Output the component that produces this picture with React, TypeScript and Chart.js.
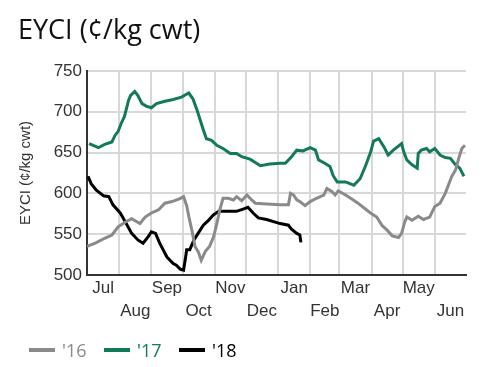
import React, { useEffect, useRef } from "react";
import { Chart, registerables } from "chart.js";

Chart.register(...registerables);

// Season runs Jul 1 (day 0) to Jun 30 (day 365)
const monthLabels = ["Jul", "Aug", "Sep", "Oct", "Nov", "Dec", "Jan", "Feb", "Mar", "Apr", "May", "Jun"];
const monthStarts = [0, 31, 62, 92, 123, 153, 184, 215, 243, 274, 304, 335, 365];
const yMin = 500;
const yMax = 750;
const yStep = 50;

const titleText = "EYCI (¢/kg cwt)";
const yAxisTitle = "EYCI (¢/kg cwt)";
const seriesNames = ["'16", "'17", "'18"];
const seriesColors = ["#8a8a8a", "#127a57", "#000000"];

const days16 = [0, 8, 17, 24, 30, 37, 43, 51, 56, 62, 69, 75, 82, 90, 93, 96, 98, 101, 104, 107, 110, 114, 118, 122, 125, 128, 131, 136, 141, 144, 149, 154, 157, 162, 173, 186, 194, 196, 199, 202, 205, 210, 215, 221, 228, 231, 236, 239, 242, 249, 255, 261, 269, 273, 279, 284, 289, 294, 300, 303, 306, 308, 313, 319, 324, 330, 335, 340, 345, 348, 351, 355, 358, 361, 364];
const values16 = [535, 539, 545, 549, 559, 565, 569, 563, 571, 576, 580, 588, 590, 594, 596, 585, 572, 555, 535, 529, 518, 529, 535, 547, 563, 580, 594, 594, 592, 596, 591, 598, 594, 588, 587, 586, 586, 600, 598, 592, 590, 585, 590, 594, 598, 606, 602, 598, 603, 598, 593, 588, 580, 576, 571, 561, 555, 548, 546, 551, 565, 571, 567, 572, 568, 571, 584, 588, 600, 610, 620, 629, 643, 655, 659];

const days17 = [2, 11, 17, 24, 27, 30, 33, 36, 38, 40, 42, 46, 49, 53, 57, 62, 67, 75, 83, 91, 98, 102, 106, 109, 112, 115, 120, 125, 131, 138, 144, 149, 157, 167, 176, 186, 191, 197, 202, 208, 215, 220, 223, 229, 234, 237, 241, 249, 257, 263, 268, 273, 276, 281, 286, 290, 295, 303, 305, 308, 313, 318, 319, 322, 327, 330, 335, 340, 345, 350, 355, 359, 363];
const values17 = [661, 656, 660, 663, 671, 676, 686, 694, 704, 714, 720, 725, 720, 710, 707, 705, 710, 713, 715, 718, 723, 716, 702, 690, 678, 667, 665, 659, 655, 649, 649, 645, 642, 634, 636, 637, 637, 645, 653, 652, 656, 653, 641, 637, 633, 622, 614, 614, 610, 618, 633, 650, 664, 667, 657, 647, 653, 661, 651, 641, 635, 631, 649, 653, 655, 651, 655, 647, 644, 643, 635, 631, 621];

const days18 = [1, 4, 9, 16, 21, 25, 32, 37, 43, 49, 54, 59, 62, 66, 70, 77, 83, 86, 90, 93, 95, 96, 99, 103, 107, 112, 117, 122, 127, 135, 144, 151, 155, 160, 165, 173, 186, 194, 197, 202, 205, 206];
const values18 = [621, 612, 604, 597, 596, 586, 576, 565, 551, 543, 539, 547, 553, 551, 539, 522, 514, 512, 507, 506, 522, 531, 531, 543, 551, 561, 567, 574, 578, 578, 578, 581, 583, 576, 570, 568, 563, 561, 556, 551, 549, 540];

const toPoints = (xs: number[], ys: number[]) => xs.map((x, i) => ({ x, y: ys[i] }));

const gridColor = "#d8d8d8";
const axisColor = "#333333";
const tickFont = { family: "'Liberation Sans', Arial, sans-serif", size: 17 };

function EycChart() {
  const canvasRef = useRef<HTMLCanvasElement | null>(null);

  useEffect(() => {
    const canvas = canvasRef.current;
    if (!canvas) return;

    const xTickValues: number[] = [];
    for (let i = 0; i < monthLabels.length; i++) {
      xTickValues.push(monthStarts[i]);
      xTickValues.push((monthStarts[i] + monthStarts[i + 1]) / 2);
    }
    xTickValues.push(monthStarts[monthStarts.length - 1]);

    const seriesData = [toPoints(days16, values16), toPoints(days17, values17), toPoints(days18, values18)];

    const chart = new Chart(canvas, {
      type: "line",
      data: {
        datasets: seriesNames.map((name, i) => ({
          label: name,
          data: seriesData[i],
          borderColor: seriesColors[i],
          backgroundColor: seriesColors[i],
          borderWidth: 3,
          pointRadius: 0,
          pointHoverRadius: 0,
          tension: 0,
          fill: false,
        })),
      },
      options: {
        animation: false,
        responsive: false,
        maintainAspectRatio: false,
        devicePixelRatio: 1,
        layout: { padding: { left: 0, top: 71, right: 28, bottom: 42 } },
        plugins: {
          legend: { display: false },
          title: { display: false },
          tooltip: { enabled: false },
        },
        scales: {
          x: {
            type: "linear",
            min: monthStarts[0],
            max: monthStarts[monthStarts.length - 1],
            afterBuildTicks: (scale: any) => {
              scale.ticks = xTickValues.map((v) => ({ value: v }));
            },
            afterFit: (scale: any) => {
              scale.height = 50;
            },
            ticks: {
              autoSkip: false,
              maxRotation: 0,
              minRotation: 0,
              padding: 2,
              color: axisColor,
              font: { ...tickFont, lineHeight: 1.35 },
              callback: (_v: any, index: number) => {
                if (index % 2 === 0) return "";
                const m = (index - 1) / 2;
                return m % 2 === 0 ? [monthLabels[m], ""] : ["", monthLabels[m]];
              },
            },
            grid: {
              drawTicks: false,
              lineWidth: 2,
              color: (ctx: any) =>
                ctx.index % 2 === 0 && ctx.index !== xTickValues.length - 1 ? gridColor : "rgba(0,0,0,0)",
            },
            border: { display: true, color: axisColor, width: 2 },
          },
          y: {
            type: "linear",
            min: yMin,
            max: yMax,
            afterFit: (scale: any) => {
              scale.width = 87;
            },
            ticks: {
              stepSize: yStep,
              padding: 5,
              color: axisColor,
              font: tickFont,
            },
            grid: {
              drawTicks: false,
              lineWidth: 2,
              color: gridColor,
            },
            border: { display: true, color: axisColor, width: 2 },
            title: {
              display: true,
              text: yAxisTitle,
              color: axisColor,
              font: { family: "'Liberation Sans', Arial, sans-serif", size: 15 },
              padding: { top: 17, bottom: 0 },
            },
          },
        },
      },
    });

    return () => chart.destroy();
  }, []);

  return <canvas ref={canvasRef} width={494} height={367} style={{ position: "absolute", left: 0, top: 0, width: 494, height: 367 }} />;
}

export default function App() {
  return (
    <div style={{ position: "fixed", left: 0, top: 0, width: 494, height: 367, background: "#fff", overflow: "hidden" }}>
      <EycChart />
      <div
        style={{
          position: "absolute",
          left: 18,
          top: 15,
          fontFamily: "'Open Sans', sans-serif",
          fontSize: 27,
          lineHeight: "27px",
          color: "#111",
          whiteSpace: "nowrap",
        }}
      >
        {titleText}
      </div>
      <div
        style={{
          position: "absolute",
          left: 29,
          top: 338,
          height: 24,
          display: "flex",
          alignItems: "center",
          fontFamily: "'Open Sans', sans-serif",
          fontSize: 18,
          lineHeight: "24px",
        }}
      >
        {seriesNames.map((name, i) => (
          <div key={name} style={{ display: "flex", alignItems: "center", marginRight: 17.5 }}>
            <span style={{ display: "inline-block", width: 26, height: 4, background: seriesColors[i], marginRight: 7 }} />
            <span style={{ color: seriesColors[i] }}>{name}</span>
          </div>
        ))}
      </div>
    </div>
  );
}
